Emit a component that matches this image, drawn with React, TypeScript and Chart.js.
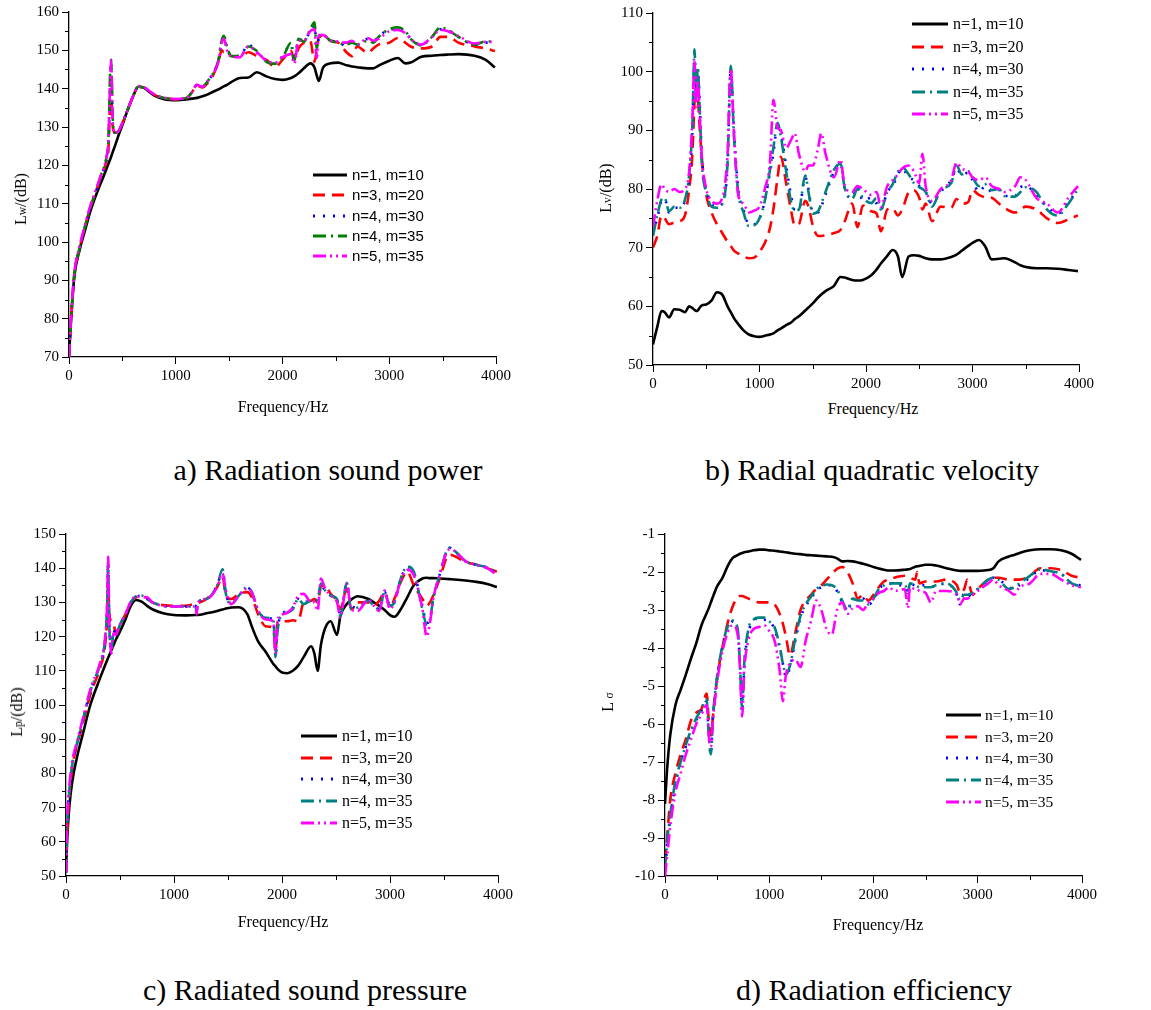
import React, { useEffect, useRef } from "react";
import { Chart, registerables } from "chart.js";

Chart.register(...registerables);

// ---------------- labels ----------------
const SERIES_LABELS = ["n=1, m=10", "n=3, m=20", "n=4, m=30", "n=4, m=35", "n=5, m=35"];
const PANEL_TITLES = [
  "a) Radiation sound power",
  "b) Radial quadratic velocity",
  "c) Radiated sound pressure",
  "d) Radiation efficiency",
];
const X_TITLE = "Frequency/Hz";

// ---------------- a) radiation sound power Lw ----------------
const FREQ_LW = [0, 20, 50, 100, 150, 200, 250, 300, 350, 370,
  385, 395, 410, 430, 460, 500, 550, 600, 650, 700,
  800, 900, 1000, 1100, 1150, 1200, 1250, 1300, 1350, 1400,
  1430, 1450, 1480, 1520, 1600, 1680, 1760, 1850, 1930, 2000,
  2080, 2110, 2150, 2200, 2260, 2300, 2320, 2340, 2380, 2450,
  2520, 2600, 2650, 2700, 2800, 2850, 2900, 3000, 3080, 3150,
  3200, 3300, 3400, 3480, 3550, 3650, 3800, 3900, 3990];
const LW_N1_M10 = [70.5, 80, 91, 98, 103, 108, 112, 115.5, 119, 120.5,
  121.5, 122.3, 123.5, 125, 127.5, 130.5, 134.5, 138, 140.5, 140.2,
  138.2, 137.2, 137, 137.2, 137.4, 137.6, 138, 138.5, 139.2, 139.8,
  140.3, 140.6, 141, 141.7, 142.8, 142.9, 144.3, 143.2, 142.5, 142.3,
  142.8, 143.2, 144, 145.3, 146.6, 145.5, 143.5, 142, 145.5, 146.6,
  146.8, 146.1, 145.8, 145.6, 145.3, 145.3, 146, 147.3, 148, 146.6,
  146.8, 148.3, 148.6, 148.8, 148.9, 149, 148.6, 147.6, 145.5];
const LW_N3_M20 = [70, 80, 91.5, 98.5, 104, 109, 113, 117, 121, 124.5,
  136, 137, 130, 128.5, 128.8, 131, 134.5, 138, 140.5, 140.3,
  138.4, 137.5, 137.2, 137.5, 139, 140.8, 140.3, 141.5, 143.5, 147,
  150, 149.5, 150, 148.5, 148.3, 149.5, 148.5, 147.5, 145.6, 147.5,
  149.8, 147.5, 150.5, 152, 152.5, 147, 150, 153.5, 153.8, 152.5,
  152, 149.5, 148.5, 151, 149.3, 150.5, 151.5, 152, 153.2, 152,
  151, 150.5, 151, 153.5, 153.5, 152, 151, 150.5, 149.8];
const LW_N4_M30 = [70, 80.5, 91.5, 98.5, 104, 109, 113, 117, 121.5, 126,
  140, 143, 131, 128.5, 128.8, 131, 134.5, 138, 140.5, 140.3,
  138.4, 137.5, 137.3, 137.6, 139, 141, 140.5, 142, 144, 147.5,
  152.5, 153.5, 150.5, 148.5, 148.5, 151.5, 149.5, 147.2, 146.5, 148.5,
  151.5, 147, 153, 152.5, 155, 156.5, 151, 153, 154, 152.5,
  152.3, 151, 152.5, 151.5, 153, 152.5, 153.5, 155.5, 155.5, 155,
  153, 151.5, 153.5, 155.5, 155, 153.5, 151.5, 152, 152];
const LW_N4_M35 = [70, 80.5, 91.5, 98.5, 104, 109, 113, 117.5, 122, 127,
  144, 147.5, 132, 128.5, 128.8, 131, 134.5, 138, 140.5, 140.3,
  138.4, 137.5, 137.3, 137.6, 139, 141, 140.5, 142, 144, 147.5,
  152.5, 153.8, 151, 148.5, 148.5, 151, 149.8, 147, 146.5, 148,
  152, 147.5, 153, 152.3, 155.5, 157.3, 150.5, 153, 154, 152.5,
  152, 151.5, 152, 151.5, 152.5, 152, 153.5, 155.5, 156, 155,
  153, 151.3, 153.5, 156, 155.3, 153.5, 151.5, 152.3, 152.3];
const LW_N5_M35 = [70, 80.5, 92, 99, 104.5, 109.5, 113.5, 117.5, 122, 127,
  142, 147.5, 131, 128.5, 128.8, 131, 134.5, 138, 140.6, 140.4,
  138.5, 137.6, 137.3, 137.6, 139, 141, 140.5, 142, 144, 147,
  152, 153, 150, 148.3, 148.2, 151, 149.5, 147.3, 146.8, 148.2,
  149, 146.5, 152.5, 152.5, 155, 155.5, 148, 154, 154, 152.5,
  152.3, 152, 152.5, 151.5, 153.2, 152.5, 153, 155, 155.3, 154.5,
  153, 151.5, 153.5, 155.3, 155, 153.7, 151.8, 152.2, 152.2];

// ---------------- b) radial quadratic velocity Lv ----------------
const FREQ_LV = [0, 40, 80, 110, 150, 200, 250, 300, 340, 370,
  390, 405, 420, 440, 460, 500, 550, 600, 650, 700,
  730, 760, 800, 850, 900, 950, 1000, 1050, 1100, 1130,
  1170, 1200, 1250, 1300, 1330, 1370, 1430, 1460, 1500, 1550,
  1580, 1620, 1700, 1760, 1800, 1870, 1920, 1970, 2050, 2100,
  2140, 2200, 2250, 2300, 2340, 2400, 2450, 2500, 2530, 2560,
  2620, 2700, 2800, 2850, 2900, 2960, 3000, 3060, 3120, 3180,
  3250, 3300, 3400, 3450, 3500, 3600, 3700, 3800, 3900, 3990];
const LV_N1_M10 = [53.5, 56.5, 59.2, 59, 58.1, 59.5, 59.4, 59, 60, 59.7,
  59.4, 59.2, 59.3, 59.8, 60.2, 60.3, 61, 62.4, 62, 60,
  59, 58, 57, 55.9, 55.2, 54.9, 54.8, 55, 55.2, 55.4,
  55.9, 56.2, 56.8, 57.3, 57.8, 58.3, 59.3, 59.8, 60.5, 61.5,
  62, 62.6, 63.5, 65, 64.9, 64.5, 64.4, 64.5, 65.3, 66.3,
  67.3, 68.6, 69.6, 68.5, 65, 68.5, 68.7, 68.6, 68.4, 68.2,
  68, 68, 68.4, 68.8, 69.5, 70.3, 70.8, 71.3, 70.2, 68,
  68.1, 68.2, 67.5, 67, 66.7, 66.5, 66.5, 66.4, 66.2, 66];
const LV_N3_M20 = [70, 72, 75.5, 75, 74, 74.3, 74.5, 75.5, 80, 86,
  95, 97.5, 96, 90, 85, 79, 76, 74, 72.5, 71,
  70.3, 69.5, 69, 68.5, 68.2, 68.3, 69.3, 70.8, 73.5, 76.5,
  82, 85.5, 81, 76, 73.8, 74, 78, 77, 73.8, 72,
  72, 72.1, 72.5, 73, 74.5, 77.5, 73.5, 77.2, 76.2, 75.8,
  72.8, 76.5, 76.7, 75.5, 76.5, 79.4, 79.8, 78.5, 76.5, 77.5,
  74.5, 77, 76.8, 78.3, 77.5, 77.8, 79.8, 79, 78.6, 78.5,
  77.5, 76.8, 76, 76.5, 77, 76.5, 75, 74.2, 74.8, 75.5];
const LV_N4_M30 = [72.5, 75, 78, 78.3, 76, 76.8, 76.8, 78, 82, 90,
  103, 96, 100, 94, 85, 80, 77.5, 77, 77.5, 84,
  100.5, 90, 80, 76.5, 74, 74, 75, 78, 83, 86,
  91, 89.5, 84, 78.5, 76.5, 76.5, 82, 80, 76, 76,
  77, 79, 83, 84.5, 80, 78.5, 80.5, 78, 78.5, 77.5,
  76.5, 79.5, 80.5, 82.5, 83.5, 82, 81.5, 80.5, 79.8, 79.5,
  77.5, 79.5, 81.5, 83.5, 82.3, 82.8, 81.5, 79.5, 80.5, 79.5,
  79.8, 78.8, 78.8, 80.3, 80.5, 79, 77, 75.8, 77.8, 79.8];
const LV_N4_M35 = [72, 75.5, 78.2, 78.5, 76.2, 77, 76.8, 78.2, 82.5, 91,
  103.8, 95, 100.8, 93, 84, 79.5, 77, 76.8, 77.5, 84.5,
  101, 89, 79.5, 76, 73.7, 73.8, 75, 78, 83.5, 87,
  91.3, 89, 83, 77.5, 76.3, 76.5, 82.3, 79.5, 75.8, 76.2,
  77.5, 79.5, 83.3, 84.3, 80.2, 78.3, 80, 78.5, 77.6, 78.5,
  76.5, 79.5, 80.8, 83, 83.7, 82.5, 81, 80.3, 80, 79.5,
  77, 79.8, 81, 84, 82.5, 83, 82, 80.5, 80.8, 79.8,
  80, 78.8, 78.7, 79.5, 80.3, 79.5, 76.5, 75.5, 77.5, 80];
const LV_N5_M35 = [73.5, 78, 80.8, 80, 79.5, 80, 79.5, 80, 83, 92,
  102, 94, 99, 92, 85, 80, 78, 77.5, 78.5, 86,
  100.5, 89.5, 79, 77.5, 76, 76.3, 77, 80, 85, 95.2,
  90.5, 90, 87, 88.5, 89.5, 86, 83, 84, 84, 87,
  89.5, 86, 82, 85, 80.5, 79.5, 80.5, 80, 79, 79.5,
  77, 80.5, 81.5, 82.5, 83.5, 84, 83, 81, 86, 80.5,
  78, 80, 81.5, 84.5, 83.5, 83, 82, 81.5, 82, 80.5,
  80, 79.5, 80.5, 82, 81.5, 78.5, 77.5, 76, 78.5, 80.5];

// ---------------- c) radiated sound pressure Lp ----------------
const FREQ_LP = [0, 10, 30, 60, 100, 160, 225, 317, 360, 380,
  390, 400, 420, 440, 460, 500, 550, 600, 650, 700,
  750, 800, 900, 1000, 1100, 1200, 1210, 1220, 1300, 1400,
  1450, 1480, 1530, 1600, 1680, 1720, 1780, 1850, 1920, 1940,
  1960, 2000, 2050, 2100, 2150, 2200, 2270, 2300, 2330, 2360,
  2400, 2450, 2510, 2540, 2600, 2640, 2700, 2800, 2850, 2900,
  2950, 3000, 3040, 3100, 3160, 3220, 3300, 3340, 3370, 3400,
  3450, 3550, 3600, 3700, 3800, 3900, 3990];
const LP_N1_M10 = [51, 60, 70, 78, 84.5, 92, 100, 108, 111.5, 113,
  113.8, 114.5, 116, 117.5, 119, 121.5, 125, 129, 130.7, 130.2,
  129, 128, 126.8, 126.3, 126.2, 126.3, 126.3, 126.3, 126.8, 127.5,
  127.9, 128.2, 128.5, 128.6, 126.5, 123, 118.5, 115.5, 112, 111.3,
  110.5, 109.5, 109.3, 110, 111.5, 114, 117.2, 115, 110, 117.5,
  122.5, 124.5, 120.5, 126, 129.5, 130.8, 131.8, 131, 130, 129,
  127.8, 126.3, 125.8, 128, 131.5, 135, 137, 137.2, 137.1, 137.1,
  137, 136.8, 136.7, 136.4, 136, 135.4, 134.5];
const LP_N3_M20 = [51, 62, 73, 82, 88, 95, 103, 111, 117, 125,
  136, 127, 124.5, 124, 121, 123.5, 126.5, 130, 131.5, 131.8,
  131.3, 130, 129.2, 129, 129, 129.5, 129.5, 129.7, 131, 134.5,
  137.5, 132, 131, 132.5, 133, 131.5, 126.5, 123, 122.5, 115.5,
  124.5, 124.5, 124.5, 124.8, 124.5, 130, 130.5, 131, 130, 134.5,
  135, 132.5, 130.5, 128, 134, 128, 130, 130, 129, 130.5,
  133, 128.5, 131, 136, 139, 135, 131, 129, 130, 132,
  136, 144, 143.5, 141.8, 141, 140, 139];
const LP_N4_M30 = [51, 65, 75, 83, 88.5, 96, 104, 112, 118, 128,
  142, 125, 117, 122, 120.5, 123.5, 126.5, 130, 131.5, 132,
  131, 130, 129, 128.8, 128.8, 129, 128.5, 130, 131, 135,
  139.5, 132.5, 130, 132, 134.3, 133, 127.5, 125.5, 124.8, 115,
  122.5, 126.5, 127.5, 128.5, 131, 130, 130.5, 130.5, 131, 135,
  133.5, 132, 130.5, 126.5, 135.5, 129, 128.5, 130.5, 129, 128,
  133, 129, 130, 137, 140.3, 138.5, 129, 124, 125, 131,
  137, 146, 145, 142, 141, 140.2, 138.5];
const LP_N4_M35 = [51, 64, 74.5, 83, 88.5, 96, 104, 112, 118.5, 128,
  141, 124, 116, 121, 120.5, 123.5, 126.5, 130, 131.8, 132,
  131, 130, 129, 128.8, 128.8, 128.8, 127, 130, 131, 135,
  139.7, 132.5, 129.5, 132, 134.5, 133, 127.5, 125.5, 124.8, 114,
  122, 126.5, 127, 128, 131, 129.5, 130.5, 130.5, 131, 135.5,
  133.5, 132, 131, 126, 135.7, 128, 128.5, 130.5, 129, 128,
  133, 129, 130, 137, 140.5, 139, 128, 123.5, 125, 131,
  137, 146, 145, 142, 141, 140.2, 138.5];
const LP_N5_M35 = [51, 66, 76, 84, 89, 96.5, 104.5, 112.5, 119, 129,
  143.3, 126, 115, 121, 120.5, 123.5, 126.5, 130.3, 131.8, 131.5,
  131.5, 130, 129, 128.8, 128.8, 128.8, 126.5, 130, 131, 134.5,
  138.5, 133.5, 129.5, 132, 134, 133, 127.5, 125, 124.5, 115,
  125, 126.5, 127, 128.5, 132, 132.5, 130, 130, 127.5, 137,
  134, 132, 130, 125.5, 135.5, 128, 127.5, 130.8, 129, 127.5,
  133.5, 128, 130, 136.5, 139.5, 138, 128, 120, 124, 131,
  137, 145.5, 145, 142, 141, 140, 138];

// ---------------- d) radiation efficiency Lsigma ----------------
const FREQ_LS = [0, 20, 50, 100, 150, 200, 250, 300, 350, 400,
  420, 440, 460, 500, 550, 600, 650, 700, 720, 740,
  760, 800, 850, 900, 950, 1000, 1050, 1100, 1130, 1160,
  1200, 1250, 1300, 1350, 1400, 1450, 1500, 1550, 1600, 1650,
  1700, 1750, 1800, 1850, 1900, 1950, 2000, 2050, 2100, 2150,
  2200, 2300, 2330, 2350, 2400, 2420, 2440, 2500, 2550, 2600,
  2700, 2800, 2830, 2870, 2900, 2950, 3000, 3100, 3150, 3200,
  3300, 3350, 3400, 3500, 3600, 3700, 3800, 3900, 3990];
const LS_N1_M10 = [-8.1, -7.2, -6.3, -5.5, -5.1, -4.7, -4.27, -3.87, -3.4, -3.08,
  -2.95, -2.8, -2.65, -2.38, -2.16, -1.85, -1.63, -1.55, -1.52, -1.5,
  -1.48, -1.46, -1.43, -1.41, -1.41, -1.43, -1.44, -1.46, -1.47, -1.48,
  -1.5, -1.52, -1.53, -1.55, -1.56, -1.57, -1.58, -1.59, -1.6, -1.64,
  -1.72, -1.71, -1.72, -1.75, -1.78, -1.82, -1.87, -1.91, -1.94, -1.96,
  -1.96, -1.94, -1.93, -1.92, -1.86, -1.85, -1.84, -1.81, -1.81, -1.83,
  -1.9, -1.96, -1.97, -1.97, -1.97, -1.97, -1.97, -1.95, -1.9, -1.72,
  -1.59, -1.55, -1.5, -1.43, -1.4, -1.4, -1.43, -1.52, -1.68];
const LS_N3_M20 = [-9.6, -9, -8, -7.3, -6.8, -6.4, -5.9, -5.7, -5.6, -5.2,
  -5.9, -6.3, -5.8, -4.8, -4, -3.35, -2.9, -2.65, -2.63, -2.63,
  -2.65, -2.7, -2.75, -2.8, -2.8, -2.8, -2.85, -3.1, -3.35, -3.7,
  -4.2, -3.6, -3.0, -2.75, -2.6, -2.45, -2.35, -2.2, -2.05, -1.92,
  -1.87, -2.0, -2.3, -2.7, -2.6, -2.75, -2.6, -2.4, -2.25, -2.2,
  -2.15, -2.1, -2.12, -2.15, -2.2, -2.0, -2.3, -2.25, -2.25, -2.25,
  -2.2, -2.35, -2.55, -2.45, -2.2, -2.6, -2.45, -2.2, -2.15, -2.15,
  -2.2, -2.2, -2.2, -2.1, -1.9, -1.9, -1.95, -2.1, -2.15];
const LS_N4_M30 = [-10, -9.2, -8.5, -7.6, -7, -6.6, -6.2, -5.9, -5.65, -5.4,
  -6.3, -6.8, -5.8, -4.8, -4, -3.5, -3.3, -3.6, -4.5, -5.7,
  -4.5, -3.6, -3.3, -3.2, -3.25, -3.3, -3.5, -4, -4.4, -4.75,
  -4.5, -3.8, -3.2, -2.9, -2.7, -2.5, -2.4, -2.35, -2.35, -2.5,
  -2.8, -3.05, -2.7, -2.75, -2.7, -2.85, -2.75, -2.45, -2.35, -2.3,
  -2.35, -2.35, -2.6, -2.3, -2.35, -2.35, -2.35, -2.35, -2.4, -2.35,
  -2.3, -2.6, -2.85, -2.55, -2.65, -2.55, -2.45, -2.25, -2.15, -2.2,
  -2.4, -2.45, -2.35, -2.15, -1.95, -2.0, -2.05, -2.3, -2.35];
const LS_N4_M35 = [-9.8, -9.1, -8.4, -7.5, -7, -6.55, -6.15, -5.85, -5.6, -5.35,
  -6.3, -6.8, -5.8, -4.75, -3.95, -3.45, -3.28, -3.55, -4.5, -5.6,
  -4.4, -3.5, -3.25, -3.2, -3.2, -3.3, -3.45, -3.95, -4.4, -4.7,
  -4.45, -3.75, -3.15, -2.85, -2.65, -2.45, -2.38, -2.33, -2.35, -2.45,
  -2.75, -3.0, -2.7, -2.75, -2.75, -2.85, -2.7, -2.45, -2.35, -2.3,
  -2.3, -2.3, -2.55, -2.3, -2.35, -2.38, -2.4, -2.4, -2.4, -2.35,
  -2.3, -2.55, -2.75, -2.6, -2.6, -2.55, -2.45, -2.2, -2.15, -2.2,
  -2.45, -2.4, -2.3, -2.1, -1.93, -1.98, -2.05, -2.3, -2.38];
const LS_N5_M35 = [-10, -9.5, -8.7, -7.8, -7.3, -6.8, -6.4, -6, -5.75, -5.5,
  -6.3, -6.6, -5.9, -4.9, -4.1, -3.6, -3.4, -3.7, -4.6, -5.8,
  -4.6, -3.8, -3.5, -3.45, -3.4, -3.55, -3.8, -4.6, -5.4, -4.7,
  -4.4, -4.3, -4.5, -3.8, -3.3, -2.75, -3.0, -3.5, -3.65, -3.0,
  -2.8, -3.1, -2.95, -2.9, -3.0, -2.8, -2.7, -2.55, -2.5, -2.4,
  -2.5, -2.45, -2.95, -2.4, -2.45, -2.45, -2.5, -2.55, -2.8, -2.5,
  -2.5, -2.6, -2.85, -2.7, -2.7, -2.6, -2.5, -2.3, -2.2, -2.35,
  -2.5, -2.6, -2.4, -2.3, -2.05, -2.05, -2.2, -2.35, -2.4];

// ---------------- styling ----------------
const SERIF = "'Liberation Serif', 'Times New Roman', serif";
const SANS = "'Liberation Sans', Arial, sans-serif";
const COLORS_A = ["#000000", "#ff0000", "#0000ff", "#008000", "#ff00ff"];
const COLORS_BCD = ["#000000", "#ff0000", "#0000ff", "#008080", "#ff00ff"];
const DASHES = [[], [12, 7], [2, 8], [13, 5, 2, 5], [13, 4, 2, 4, 2, 4]];
const LINE_W = 2.6;

const minorTicksPlugin = {
  id: "minorTicks",
  afterDraw(chart: any, _args: any, opts: any) {
    const { ctx } = chart;
    const xs = chart.scales.x;
    const ys = chart.scales.y;
    const len = opts.length ?? 4;
    ctx.save();
    ctx.strokeStyle = "#000";
    ctx.lineWidth = 1;
    ctx.setLineDash([]);
    ctx.beginPath();
    for (let k = 0; k < 100; k++) {
      const v = xs.min + opts.xStep * (2 * k + 1);
      if (v >= xs.max - 1e-9) break;
      const px = Math.round(xs.getPixelForValue(v)) + 0.5;
      ctx.moveTo(px, xs.top);
      ctx.lineTo(px, xs.top + len);
    }
    for (let k = 0; k < 100; k++) {
      const v = ys.min + opts.yStep * (2 * k + 1);
      if (v >= ys.max - 1e-9) break;
      const py = Math.round(ys.getPixelForValue(v)) + 0.5;
      ctx.moveTo(ys.right, py);
      ctx.lineTo(ys.right - len, py);
    }
    ctx.stroke();
    ctx.restore();
  },
};

const lineLegendPlugin = {
  id: "lineLegend",
  afterDraw(chart: any, _args: any, opts: any) {
    const { ctx } = chart;
    ctx.save();
    chart.data.datasets.forEach((ds: any, i: number) => {
      const y = Math.round(opts.y0 + i * opts.dy);
      ctx.setLineDash(ds.borderDash || []);
      ctx.strokeStyle = ds.borderColor;
      ctx.lineWidth = 3;
      ctx.lineCap = "butt";
      ctx.beginPath();
      ctx.moveTo(opts.x0, y);
      ctx.lineTo(opts.x1, y);
      ctx.stroke();
      ctx.setLineDash([]);
      ctx.fillStyle = "#000";
      ctx.font = opts.font;
      ctx.textBaseline = "middle";
      ctx.textAlign = "left";
      ctx.fillText(ds.label, opts.tx, y + 1);
    });
    ctx.restore();
  },
};

type PanelSpec = {
  left: number;
  top: number;
  w: number;
  h: number;
  yW: number;
  xH: number;
  padTop: number;
  padRight: number;
  yMin: number;
  yMax: number;
  yStep: number;
  yMinor: number;
  freq: number[];
  series: number[][];
  colors: string[];
  legend: { x0: number; x1: number; tx: number; y0: number; dy: number; font: string };
};

const PANELS: PanelSpec[] = [
  {
    left: 0, top: 0, w: 575, h: 400, yW: 69, xH: 43, padTop: 12, padRight: 79,
    yMin: 70, yMax: 160, yStep: 10, yMinor: 5,
    freq: FREQ_LW,
    series: [LW_N1_M10, LW_N3_M20, LW_N4_M30, LW_N4_M35, LW_N5_M35],
    colors: COLORS_A,
    legend: { x0: 313, x1: 347, tx: 352, y0: 175, dy: 20.3, font: `15px ${SANS}` },
  },
  {
    left: 575, top: 0, w: 576, h: 400, yW: 78, xH: 35, padTop: 13, padRight: 72,
    yMin: 50, yMax: 110, yStep: 10, yMinor: 5,
    freq: FREQ_LV,
    series: [LV_N1_M10, LV_N3_M20, LV_N4_M30, LV_N4_M35, LV_N5_M35],
    colors: COLORS_BCD,
    legend: { x0: 337, x1: 373, tx: 378, y0: 24, dy: 22.5, font: `16px ${SERIF}` },
  },
  {
    left: 0, top: 500, w: 575, h: 420, yW: 66, xH: 44, padTop: 34, padRight: 77,
    yMin: 50, yMax: 150, yStep: 10, yMinor: 5,
    freq: FREQ_LP,
    series: [LP_N1_M10, LP_N3_M20, LP_N4_M30, LP_N4_M35, LP_N5_M35],
    colors: COLORS_BCD,
    legend: { x0: 301, x1: 337, tx: 342, y0: 236, dy: 21.7, font: `16px ${SERIF}` },
  },
  {
    left: 575, top: 500, w: 576, h: 420, yW: 90, xH: 44, padTop: 34, padRight: 69,
    yMin: -10, yMax: -1, yStep: 1, yMinor: 0.5,
    freq: FREQ_LS,
    series: [LS_N1_M10, LS_N3_M20, LS_N4_M30, LS_N4_M35, LS_N5_M35],
    colors: COLORS_BCD,
    legend: { x0: 371, x1: 406, tx: 410, y0: 215, dy: 21.7, font: `15.5px ${SERIF}` },
  },
];

function Panel({ spec }: { spec: PanelSpec }) {
  const ref = useRef<HTMLCanvasElement | null>(null);
  useEffect(() => {
    if (!ref.current) return;
    const tickFont = { family: SERIF, size: 15 };
    const datasets = spec.series.map((vals, i) => ({
      label: SERIES_LABELS[i],
      data: spec.freq.map((f, j) => ({ x: f, y: vals[j] })),
      borderColor: spec.colors[i],
      backgroundColor: spec.colors[i],
      borderWidth: LINE_W,
      borderDash: DASHES[i],
      pointRadius: 0,
      fill: false,
      order: 5 - i,
      cubicInterpolationMode: "monotone",
    }));
    const chart = new Chart(ref.current, {
      type: "line",
      data: { datasets } as any,
      options: {
        animation: false,
        responsive: false,
        devicePixelRatio: 1,
        layout: { padding: { left: 0, top: spec.padTop, right: spec.padRight, bottom: 0 } },
        plugins: {
          legend: { display: false },
          tooltip: { enabled: false },
          minorTicks: { xStep: 500, yStep: spec.yMinor, length: 4 },
          lineLegend: spec.legend,
        } as any,
        scales: {
          x: {
            type: "linear",
            min: 0,
            max: 4000,
            ticks: {
              stepSize: 1000,
              color: "#000",
              font: tickFont,
              padding: 3,
              maxRotation: 0,
              autoSkip: false,
              callback: (v: any) => String(v),
            },
            grid: { display: true, drawOnChartArea: false, drawTicks: true, tickLength: 7, color: "#000", lineWidth: 1 },
            border: { display: true, color: "#000", width: 1.3 },
            afterFit: (s: any) => {
              s.height = spec.xH;
              s.paddingLeft = 0;
              s.paddingRight = 0;
            },
          },
          y: {
            type: "linear",
            min: spec.yMin,
            max: spec.yMax,
            ticks: {
              stepSize: spec.yStep,
              color: "#000",
              font: tickFont,
              padding: 3,
              autoSkip: false,
              callback: (v: any) => String(Math.round(v * 100) / 100),
            },
            grid: { display: true, drawOnChartArea: false, drawTicks: true, tickLength: 7, color: "#000", lineWidth: 1 },
            border: { display: true, color: "#000", width: 1.3 },
            afterFit: (s: any) => {
              s.width = spec.yW;
              s.paddingTop = 0;
              s.paddingBottom = 0;
            },
          },
        },
      } as any,
      plugins: [minorTicksPlugin, lineLegendPlugin] as any,
    });
    return () => chart.destroy();
  }, [spec]);
  return (
    <canvas
      ref={ref}
      width={spec.w}
      height={spec.h}
      style={{ position: "absolute", left: spec.left, top: spec.top, width: spec.w, height: spec.h }}
    />
  );
}

const textBase: React.CSSProperties = {
  position: "absolute",
  fontFamily: SERIF,
  color: "#000",
  whiteSpace: "nowrap",
  lineHeight: 1,
};

function Centered({ x, y, size, children, rotate }: any) {
  return (
    <div
      style={{
        ...textBase,
        left: x,
        top: y,
        fontSize: size,
        transform: `translate(-50%, -50%)${rotate ? " rotate(-90deg)" : ""}`,
      }}
    >
      {children}
    </div>
  );
}

const small = { fontSize: "0.72em" };

export default function App() {
  return (
    <div style={{ position: "absolute", left: 0, top: 0, width: 1151, height: 1010, background: "#fff", overflow: "hidden" }}>
      {PANELS.map((p, i) => (
        <Panel key={i} spec={p} />
      ))}
      {/* axis titles */}
      <Centered x={21} y={199} size={16} rotate>
        L<span style={small}>w</span>/(dB)
      </Centered>
      <Centered x={606} y={188} size={16} rotate>
        L<span style={small}>v</span>/(dB)
      </Centered>
      <Centered x={17} y={712} size={16} rotate>
        L<span style={small}>p</span>/(dB)
      </Centered>
      <Centered x={608} y={702} size={16} rotate>
        L <span style={small}>σ</span>
      </Centered>
      <Centered x={283} y={407} size={16}>{X_TITLE}</Centered>
      <Centered x={873} y={409} size={16}>{X_TITLE}</Centered>
      <Centered x={283} y={922} size={16}>{X_TITLE}</Centered>
      <Centered x={878} y={925} size={16}>{X_TITLE}</Centered>
      {/* panel titles */}
      <Centered x={328} y={470} size={30}>{PANEL_TITLES[0]}</Centered>
      <Centered x={872} y={470} size={30}>{PANEL_TITLES[1]}</Centered>
      <Centered x={305} y={990} size={30}>{PANEL_TITLES[2]}</Centered>
      <Centered x={874} y={990} size={30}>{PANEL_TITLES[3]}</Centered>
    </div>
  );
}
